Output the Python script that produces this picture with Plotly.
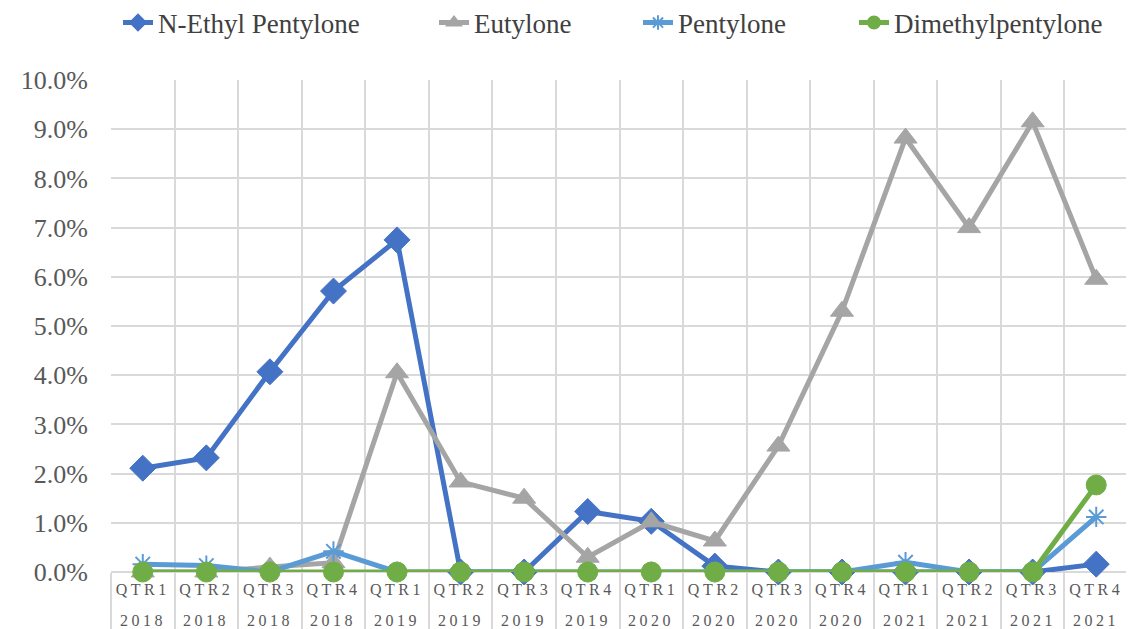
import plotly.graph_objects as go

quarters = ["QTR1", "QTR2", "QTR3", "QTR4"] * 4
years = ["2018"] * 4 + ["2019"] * 4 + ["2020"] * 4 + ["2021"] * 4

n_ethyl_pentylone = [2.11, 2.32, 4.07, 5.71, 6.75, 0.0, 0.0, 1.23, 1.03, 0.12, 0.0, 0.0, 0.0, 0.0, 0.0, 0.16]
eutylone = [0.0, 0.0, 0.10, 0.19, 4.05, 1.83, 1.50, 0.30, 1.02, 0.63, 2.56, 5.30, 8.82, 7.0, 9.15, 5.95]
pentylone = [0.16, 0.13, 0.0, 0.42, 0.0, 0.0, 0.0, 0.0, 0.0, 0.0, 0.0, 0.0, 0.20, 0.0, 0.0, 1.12]
dimethylpentylone = [0.0, 0.0, 0.0, 0.0, 0.0, 0.0, 0.0, 0.0, 0.0, 0.0, 0.0, 0.0, 0.0, 0.0, 0.0, 1.77]

y_ticks = [0, 1, 2, 3, 4, 5, 6, 7, 8, 9, 10]

SERIF = "Liberation Serif"
idx = list(range(len(quarters)))
spaced = '<span style="letter-spacing:3.5px">{}</span>'
tick_text = [spaced.format(q) for q in quarters]

W, H = 1134, 629
ML, MR, MT, MB = 103, 14, 72, 65   # page has an 8px body margin
PW = W - ML - MR

series = [
    ("N-Ethyl Pentylone", n_ethyl_pentylone, "#4472C4", "diamond", 20, 1),
    ("Eutylone", eutylone, "#A5A5A5", "triangle-up", 20, 1),
    ("Pentylone", pentylone, "#5B9BD5", "asterisk-open", 17, 2),
    ("Dimethylpentylone", dimethylpentylone, "#70AD47", "circle", 20, 1),
]
legend_text_px = [155, 471, 675, 891]   # where each legend label starts (figure px)
legend_entry_w = [235, 130, 140, 220]
legend_names = ["legend", "legend2", "legend3", "legend4"]

fig = go.Figure()
for (name, vals, color, sym, size, lw), lg in zip(series, legend_names):
    fig.add_trace(go.Scatter(
        x=idx, y=[v / 100 for v in vals], name=name, mode="lines+markers",
        line=dict(color=color, width=5),
        marker=dict(symbol=sym, size=size, color=color, line=dict(color=color, width=lw)),
        cliponaxis=False, legend=lg,
    ))

for i, yr in zip(idx, years):
    fig.add_annotation(
        x=i, xref="x", y=-0.098, yref="paper", yanchor="middle",
        text=spaced.format(yr), showarrow=False,
        font=dict(family=SERIF, size=16, color="#595959"),
    )

legend_layout = {}
for lg, tx, ew in zip(legend_names, legend_text_px, legend_entry_w):
    legend_layout[lg] = dict(
        orientation="h", x=(tx - 45 - ML) / PW, xanchor="left",
        y=1 - 15 / H, yanchor="middle", yref="container",
        font=dict(family=SERIF, size=27, color="#404040"),
        bgcolor="rgba(0,0,0,0)", itemsizing="constant",
        entrywidth=ew, entrywidthmode="pixels",
    )

fig.update_layout(
    width=W, height=H,
    margin=dict(l=ML, r=MR, t=MT, b=MB),
    paper_bgcolor="white", plot_bgcolor="white",
    font=dict(family=SERIF, color="#595959"),
    showlegend=True,
    **legend_layout,
)

fig.update_xaxes(
    range=[-0.5, len(idx) - 0.5],
    tickvals=idx, ticktext=tick_text,
    tickfont=dict(family=SERIF, size=16, color="#595959"),
    showgrid=False, zeroline=False,
    showline=False, ticks="", ticklabelstandoff=6,
    minor=dict(tickvals=[i - 0.5 for i in range(len(idx) + 1)], showgrid=True,
               gridcolor="#D9D9D9", gridwidth=2, ticks="outside", ticklen=60,
               tickcolor="#D9D9D9", tickwidth=2),
)
fig.update_yaxes(
    range=[0, 0.1], tickvals=[t / 100 for t in y_ticks], tickformat=".1%",
    tickfont=dict(family=SERIF, size=26, color="#595959"),
    showgrid=True, gridcolor="#D9D9D9", gridwidth=2,
    zeroline=True, zerolinecolor="#D9D9D9", zerolinewidth=2,
    ticks="", ticklabelstandoff=22,
)

fig.write_html("out.html")
